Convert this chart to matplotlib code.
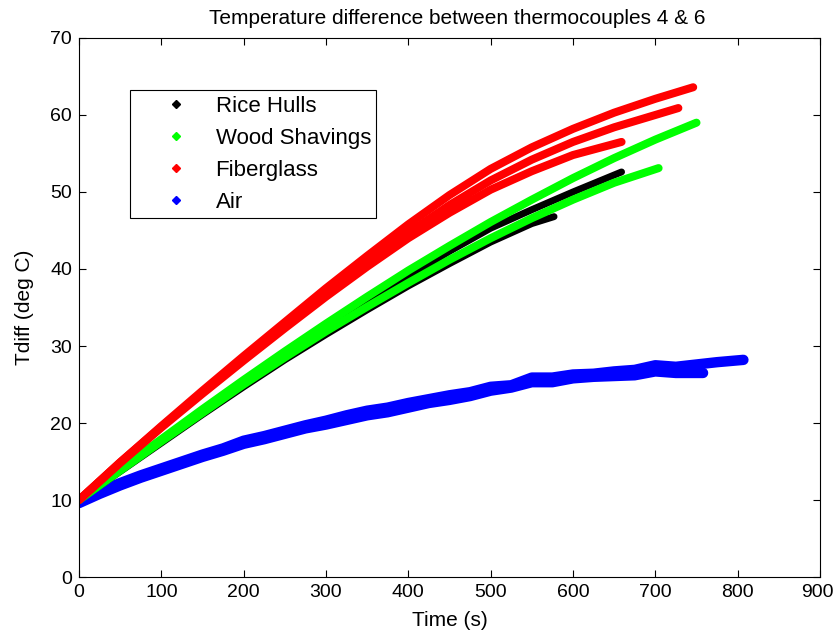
import numpy as np
import matplotlib
matplotlib.use("Agg")
from matplotlib import pyplot as plt
from matplotlib.lines import Line2D
from matplotlib.transforms import ScaledTranslation

plt.rcParams['font.family'] = ['Liberation Sans', 'DejaVu Sans']

# values, time (s) vs Tdiff (deg C)
fiber1_t = [0, 50, 100, 150, 200, 250, 300, 350, 400, 450, 500, 550, 600, 650, 700, 746]
fiber1_y = [10, 14.9, 19.6, 24.2, 28.7, 33.1, 37.5, 41.7, 45.8, 49.6, 53.0, 55.8, 58.2, 60.3, 62.1, 63.6]
fiber2_t = [0, 50, 100, 150, 200, 250, 300, 350, 400, 450, 500, 550, 600, 650, 700, 728]
fiber2_y = [10, 14.9, 19.5, 24.0, 28.4, 32.7, 36.9, 40.9, 44.7, 48.3, 51.5, 54.2, 56.5, 58.4, 60.0, 60.9]
fiber3_t = [0, 50, 100, 150, 200, 250, 300, 350, 400, 450, 500, 550, 600, 659]
fiber3_y = [10, 14.8, 19.4, 23.8, 28.1, 32.3, 36.4, 40.3, 44.0, 47.3, 50.3, 52.7, 54.8, 56.5]

wood1_t = [0, 50, 100, 150, 200, 250, 300, 350, 400, 450, 500, 550, 600, 650, 700, 750]
wood1_y = [10, 14.0, 17.9, 21.8, 25.6, 29.3, 32.9, 36.4, 39.8, 43.0, 46.1, 49.0, 51.8, 54.4, 56.8, 59.0]
wood2_t = [0, 50, 100, 150, 200, 250, 300, 350, 400, 450, 500, 550, 600, 650, 704]
wood2_y = [10, 13.8, 17.6, 21.3, 25.0, 28.5, 31.9, 35.1, 38.2, 41.2, 44.0, 46.6, 49.0, 51.2, 53.1]

rice1_t = [0, 50, 100, 150, 200, 250, 300, 350, 400, 450, 500, 550, 600, 659]
rice1_y = [10, 13.8, 17.6, 21.4, 25.1, 28.7, 32.2, 35.6, 39.0, 42.3, 45.3, 47.7, 50.0, 52.6]
rice2_t = [0, 50, 100, 150, 200, 250, 300, 350, 400, 450, 500, 550, 577]
rice2_y = [10, 13.7, 17.4, 21.1, 24.7, 28.2, 31.5, 34.7, 37.8, 40.7, 43.5, 45.9, 46.8]

air1_t = [0, 25, 50, 75, 100, 125, 150, 175, 200, 225, 250, 275, 300, 325, 350, 375, 400,
          425, 450, 475, 500, 525, 550, 575, 600, 625, 650, 675, 700, 725, 750, 775, 807]
air1_y = [9.8, 11.1, 12.2, 13.2, 14.1, 15.0, 15.9, 16.7, 17.7, 18.3, 19.0, 19.7, 20.3, 21.0, 21.6, 22.0, 22.6,
          23.1, 23.6, 24.0, 24.7, 24.9, 25.9, 25.9, 26.3, 26.4, 26.7, 26.9, 27.5, 27.3, 27.6, 27.9, 28.2]
air2_t = [0, 25, 50, 75, 100, 125, 150, 175, 200, 225, 250, 275, 300, 325, 350, 375, 400,
          425, 450, 475, 500, 525, 550, 575, 600, 625, 650, 675, 700, 725, 758]
air2_y = [9.6, 10.8, 11.9, 12.9, 13.8, 14.7, 15.6, 16.4, 17.3, 17.9, 18.6, 19.3, 19.8, 20.4, 21.0, 21.4, 22.0,
          22.6, 23.0, 23.5, 24.2, 24.6, 25.3, 25.3, 25.8, 26.0, 26.1, 26.2, 26.7, 26.5, 26.5]

xticks = [0, 100, 200, 300, 400, 500, 600, 700, 800, 900]
yticks = [0, 10, 20, 30, 40, 50, 60, 70]

fig = plt.figure(figsize=(8.35, 6.35), dpi=100)
ax = fig.add_axes([0.0946, 0.0913, 0.8874, 0.8489])

# drawing order: air, rice hulls, wood shavings, fiberglass
runs = [
    (air1_t, air1_y, 'blue', 7.5),
    (air2_t, air2_y, 'blue', 7.5),
    (rice1_t, rice1_y, 'black', 5),
    (rice2_t, rice2_y, 'black', 5),
    (wood1_t, wood1_y, 'lime', 5.8),
    (wood2_t, wood2_y, 'lime', 5.8),
    (fiber1_t, fiber1_y, 'red', 5.8),
    (fiber2_t, fiber2_y, 'red', 5.8),
    (fiber3_t, fiber3_y, 'red', 5.8),
]
for t, y, c, lw in runs:
    ax.plot(t, y, color=c, lw=lw, solid_capstyle='round', solid_joinstyle='round')

ax.set_xlim(0, 900)
ax.set_ylim(0, 70)
ax.set_xticks(xticks)
ax.set_yticks(yticks)
ax.tick_params(direction='in', top=True, right=True, length=5, labelsize=14, width=0.8, pad=5)
for s in ax.spines.values():
    s.set_linewidth(0.8)

# keep the last x label inside the figure
last = ax.get_xticklabels()[-1]
last.set_transform(last.get_transform() + ScaledTranslation(-3 / 100, 0, fig.dpi_scale_trans))

ax.set_xlabel('Time (s)', fontsize=15, labelpad=7)
ax.set_ylabel('Tdiff (deg C)', fontsize=15, labelpad=12)
ax.set_title('Temperature difference between thermocouples 4 & 6', fontsize=15, pad=10)
ax.title.set_x(0.51)

handles = [Line2D([], [], color=c, marker='D', markersize=4.5, linestyle='none')
           for c in ['black', 'lime', 'red', 'blue']]
labels = ['Rice Hulls', 'Wood Shavings', 'Fiberglass', 'Air']
leg = ax.legend(handles, labels, loc='upper left', bbox_to_anchor=(0.0688, 0.9035),
                prop={'size': 16}, frameon=True, fancybox=False, edgecolor='black',
                framealpha=1, handlelength=3.6, handletextpad=0.0, labelspacing=0.5,
                borderpad=0.25, borderaxespad=0)
leg.get_frame().set_linewidth(0.8)

fig.savefig('out.png', dpi=100)
